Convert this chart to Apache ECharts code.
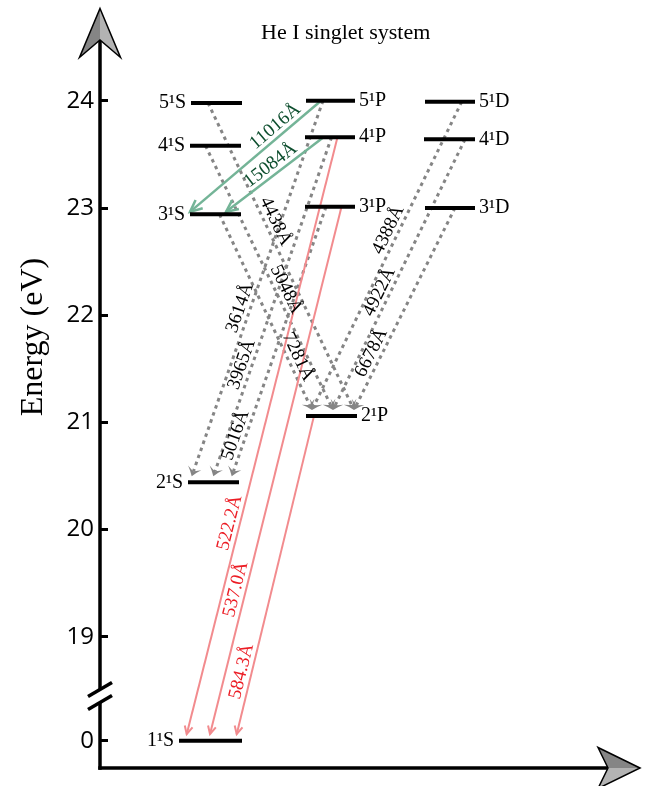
<!DOCTYPE html>
<html>
<head>
<meta charset="utf-8">
<title>He I singlet system</title>
<script src="https://cdn.jsdelivr.net/npm/echarts@6/dist/echarts.min.js"></script>
<style>
  html, body { margin: 0; padding: 0; background: #fff; }
</style>
</head>
<body>
<div id="chart" style="width: 649px; height: 786px"></div>
<script>
// He I singlet levels (energies in eV)
const levelN = [1, 2, 3, 4, 5, 2, 3, 4, 5, 3, 4, 5];
const levelL = ["S", "S", "S", "S", "S", "P", "P", "P", "P", "D", "D", "D"];
const levelEnergy = [0, 20.44, 22.94, 23.58, 23.98, 21.06, 23.01, 23.66, 24.0, 23.0, 23.64, 23.99];

// transitions: upper level index -> lower level index
const transUpper = [8, 7, 8, 7, 6, 4, 3, 2, 11, 10, 9, 7, 6, 5];
const transLower = [2, 2, 1, 1, 1, 5, 5, 5, 5, 5, 5, 0, 0, 0];
const transWave = ["11016", "15084", "3614", "3965", "5016", "4438", "5048", "7281",
                   "4388", "4922", "6678", "522.2", "537.0", "584.3"];
const transBand = ["ir", "ir", "vis", "vis", "vis", "vis", "vis", "vis",
                   "vis", "vis", "vis", "uv", "uv", "uv"];

// y axis tick labels (eV); the axis is broken between 0 and 19
const tickEnergy = [0, 19, 20, 21, 22, 23, 24];

// ---- layout (not data) ----
const BREAK_SHIFT = 18.03;     // where 0 eV sits on the broken axis
const axisY = (e) => (e < 10 ? e + BREAK_SHIFT : e);
const GRID = { left: 100, right: 30, top: 33, bottom: 18 };
const Y_MIN = 17.775, Y_MAX = 24.632, BREAK_AT = 18.447;

// bar spans along x (px from the y axis)
const levelSpan = [[79, 142], [88, 139], [90, 141], [90, 141], [91, 142],
                   [206, 257], [205, 255], [205, 255], [206, 255],
                   [325, 375], [324, 375], [325, 375]];
// where each arrow leaves the upper bar and lands on the lower one
const transStartX = [221, 223.5, 223, 231.6, 226, 108, 105.5, 119.5, 361.7, 365, 355, 237.5, 241.5, 214];
const transEndX = [90, 126, 91.7, 113.3, 131.7, 254, 233, 212, 212, 233, 254, 86.7, 110, 136.7];
const labelT = [0.3, 0.48, 0.56, 0.68, 0.86, 0.4, 0.56, 0.75, 0.43, 0.58, 0.74, 0.65, 0.73, 0.81];

const bandStyle = {
  ir:  { line: "#74b497", text: "#0e4f2f", width: 2.5, dash: null, head: "chevron", len: 12, half: 5.5, tipGap: 2.5, z2: 20 },
  vis: { line: "#858585", text: "#000000", width: 3, dash: [3.5, 4], head: "wing", len: 9, half: 7, tipGap: 6, z2: 10 },
  uv:  { line: "#f28b8e", text: "#ec1c24", width: 2, dash: null, head: "chevron", len: 8, half: 4, tipGap: 6.5, z2: 15 },
};

const SERIF = '"Liberation Serif", "Times New Roman", serif';

const levelData = levelEnergy.map((e, i) => [levelSpan[i][0], levelSpan[i][1], axisY(e)]);
const transData = transWave.map((w, i) => [
  transStartX[i], axisY(levelEnergy[transUpper[i]]),
  transEndX[i], axisY(levelEnergy[transLower[i]]),
]);

function local(p, u, n, a, b) {
  return [p[0] + u[0] * a + n[0] * b, p[1] + u[1] * a + n[1] * b];
}

function renderTransition(params, api) {
  const i = params.dataIndex;
  const st = bandStyle[transBand[i]];
  const p1 = api.coord([api.value(0), api.value(1)]);
  const pb = api.coord([api.value(2), api.value(3)]);
  const p2 = [pb[0], pb[1] - st.tipGap];
  const dx = p2[0] - p1[0], dy = p2[1] - p1[1];
  const len = Math.hypot(dx, dy);
  const u = [dx / len, dy / len];
  const n = [-u[1], u[0]];
  const children = [];

  let lineEnd = p2;
  if (st.head === "wing") {
    lineEnd = local(p2, u, n, -5.5, 0);
    const pts = [[0, 0], [-5, -3.5], [-st.len, -st.half], [-6.5, -2.5], [-5.5, 0],
                 [-6.5, 2.5], [-st.len, st.half], [-5, 3.5]].map((q) => local(p2, u, n, q[0], q[1]));
    children.push({ type: "polygon", z2: st.z2 + 1, shape: { points: pts }, style: { fill: st.line } });
  } else {
    const pts = [local(p2, u, n, -st.len, -st.half), p2, local(p2, u, n, -st.len, st.half)];
    children.push({
      type: "polyline", z2: st.z2 + 1, shape: { points: pts },
      style: { stroke: st.line, lineWidth: st.width, fill: null, lineJoin: "miter" },
    });
  }
  children.unshift({
    type: "line", z2: st.z2,
    shape: { x1: p1[0], y1: p1[1], x2: lineEnd[0], y2: lineEnd[1] },
    style: { stroke: st.line, lineWidth: st.width, lineDash: st.dash },
  });

  // wavelength label, reading left to right along the arrow, on its upper side
  const t = labelT[i];
  const anchor = [p1[0] + dx * t, p1[1] + dy * t];
  const dir = u[0] >= 0 ? u : [-u[0], -u[1]];
  children.push({
    type: "text", z2: 30,
    x: anchor[0], y: anchor[1],
    rotation: -Math.atan2(dir[1], dir[0]),
    style: {
      text: transWave[i] + "Å", x: 0, y: -10,
      align: "center", verticalAlign: "middle",
      font: "19px " + SERIF, fill: st.text,
    },
  });
  return { type: "group", children: children };
}

function renderLevel(params, api) {
  const i = params.dataIndex;
  const a = api.coord([api.value(0), api.value(2)]);
  const b = api.coord([api.value(1), api.value(2)]);
  const left = levelL[i] === "S";
  return {
    type: "group",
    children: [
      { type: "line", z2: 40, shape: { x1: a[0], y1: a[1], x2: b[0], y2: b[1] },
        style: { stroke: "#000", lineWidth: 4 } },
      { type: "text", z2: 40,
        style: {
          text: levelN[i] + "¹" + levelL[i],
          x: left ? a[0] - 5 : b[0] + 4, y: a[1],
          align: left ? "right" : "left", verticalAlign: "middle",
          font: "20px " + SERIF, fill: "#000",
        } },
    ],
  };
}

const tickValues = tickEnergy.map(axisY);

const option = {
  animation: false,
  grid: { left: GRID.left, right: GRID.right, top: GRID.top, bottom: GRID.bottom, containLabel: false },
  title: {
    text: "He I singlet system", left: 256, top: 17,
    textStyle: { fontFamily: SERIF, fontWeight: "normal", fontSize: 22, color: "#000" },
  },
  xAxis: {
    type: "value", min: 0, max: 519,
    axisLine: { lineStyle: { color: "#000", width: 3.5, cap: "square" } },
    axisTick: { show: false }, axisLabel: { show: false }, splitLine: { show: false },
  },
  yAxis: {
    type: "value", min: Y_MIN, max: Y_MAX,
    axisLine: { show: true, lineStyle: { color: "#000", width: 3.5, cap: "square" } },
    axisTick: { show: true, inside: true, length: 8, customValues: tickValues,
                lineStyle: { color: "#000", width: 3 } },
    axisLabel: {
      customValues: tickValues, margin: 6, color: "#000",
      fontFamily: '"Open Sans", sans-serif', fontSize: 24,
      formatter: (v) => (v < 18.5 ? "0" : String(Math.round(v))),
    },
    splitLine: { show: false },
  },
  series: [
    { type: "custom", renderItem: renderTransition, data: transData,
      encode: { x: [0, 2], y: [1, 3] }, silent: true, clip: false },
    { type: "custom", renderItem: renderLevel, data: levelData,
      encode: { x: [0, 1], y: 2 }, silent: true, clip: false },
  ],
};

const chart = echarts.init(document.getElementById("chart"));
chart.setOption(option);

// axis arrows, axis name and the axis break mark
const grey = (dir) => ({
  type: "linear", x: 0, y: 0, x2: dir === "x" ? 1 : 0, y2: dir === "x" ? 0 : 1,
  colorStops: [
    { offset: 0, color: "#858585" }, { offset: 0.5, color: "#858585" },
    { offset: 0.5, color: "#b3b3b3" }, { offset: 1, color: "#b3b3b3" },
  ],
});
const origin = chart.convertToPixel({ gridIndex: 0 }, [0, Y_MIN]);
const yTop = chart.convertToPixel({ gridIndex: 0 }, [0, Y_MAX]);
const xEnd = chart.convertToPixel({ gridIndex: 0 }, [519, Y_MIN]);
const brk = chart.convertToPixel({ gridIndex: 0 }, [0, BREAK_AT]);
const ax = origin[0];

chart.setOption({
  graphic: [
    { type: "polygon", z: 100,
      shape: { points: [[ax, yTop[1] - 24.5], [ax + 20.5, yTop[1] + 24.5], [ax, yTop[1] + 7], [ax - 20.5, yTop[1] + 24.5]] },
      style: { fill: grey("x"), stroke: "#000", lineWidth: 1.5 } },
    { type: "polygon", z: 100,
      shape: { points: [[xEnd[0] + 21, xEnd[1]], [xEnd[0] - 21, xEnd[1] - 20.5], [xEnd[0] - 11, xEnd[1]], [xEnd[0] - 21, xEnd[1] + 20.5]] },
      style: { fill: grey("y"), stroke: "#000", lineWidth: 1.5 } },
    { type: "text", z: 100, x: 34, y: 337, rotation: Math.PI / 2,
      style: { text: "Energy (eV)", font: "32px " + SERIF, fill: "#000", align: "center", verticalAlign: "middle" } },
    { type: "rect", z: 100, shape: { x: ax - 4, y: brk[1] - 6.5, width: 8, height: 13 }, style: { fill: "#fff" } },
    { type: "line", z: 101, shape: { x1: ax - 12, y1: brk[1] + 0.5, x2: ax + 12, y2: brk[1] - 13.5 },
      style: { stroke: "#000", lineWidth: 3.5 } },
    { type: "line", z: 101, shape: { x1: ax - 12, y1: brk[1] + 13.5, x2: ax + 12, y2: brk[1] - 0.5 },
      style: { stroke: "#000", lineWidth: 3.5 } },
  ],
});
</script>
</body>
</html>
